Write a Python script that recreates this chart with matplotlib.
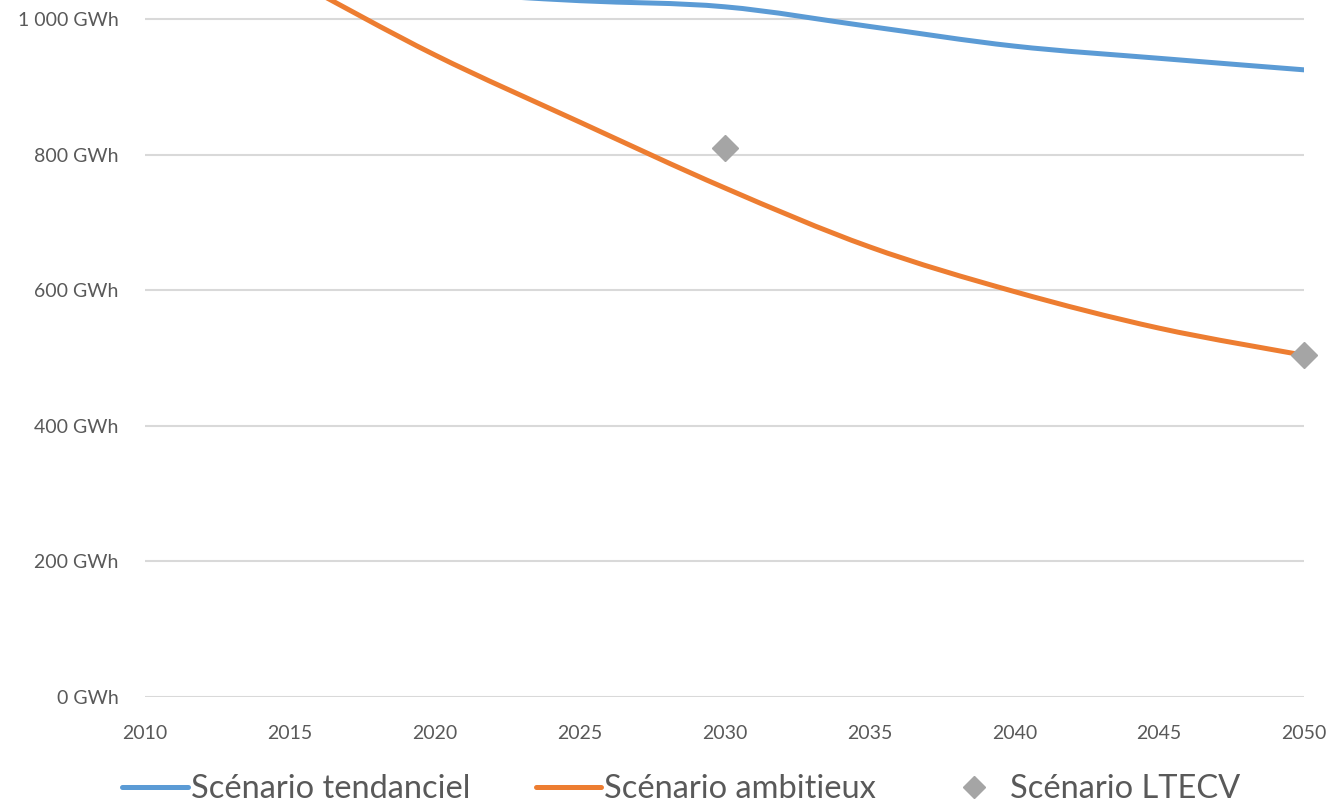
import matplotlib.pyplot as plt
from matplotlib.path import Path
from matplotlib.patches import PathPatch
from matplotlib.lines import Line2D
from matplotlib.ticker import FuncFormatter

# Data (GWh)
years = [2010, 2015, 2020, 2025, 2030, 2035, 2040, 2045, 2050]
tendanciel = [1056, 1049, 1039, 1027, 1018, 989, 960, 942, 925]
ambitieux = [1170, 1060, 947, 848, 751, 664, 598, 544, 504]
ltecv_years = [2030, 2050]
ltecv = [810, 505]

labels = ["Scénario tendanciel", "Scénario ambitieux", "Scénario LTECV"]
c_blue = "#5B9BD5"
c_orange = "#ED7D31"
c_gray = "#A5A5A5"
c_text = "#595959"

plt.rcParams["font.family"] = ["Lato", "DejaVu Sans"]


def smooth_path(xs, ys):
    # Excel-style smoothed line: cubic Bezier segments (Catmull-Rom control points)
    pts = list(zip(xs, ys))
    verts = [pts[0]]
    codes = [Path.MOVETO]
    n = len(pts)
    for i in range(n - 1):
        p0 = pts[i - 1] if i > 0 else pts[i]
        p1 = pts[i]
        p2 = pts[i + 1]
        p3 = pts[i + 2] if i + 2 < n else pts[i + 1]
        c1 = (p1[0] + (p2[0] - p0[0]) / 6, p1[1] + (p2[1] - p0[1]) / 6)
        c2 = (p2[0] - (p3[0] - p1[0]) / 6, p2[1] - (p3[1] - p1[1]) / 6)
        verts += [c1, c2, p2]
        codes += [Path.CURVE4] * 3
    return Path(verts, codes)


fig = plt.figure(figsize=(13.33, 8.06), dpi=100)
ax = fig.add_axes([0.1088, 0.1352, 0.8695, 0.8648])

ax.set_xlim(2010, 2050)
ax.set_ylim(0, 1028)

for series, col in [(tendanciel, c_blue), (ambitieux, c_orange)]:
    ax.add_patch(PathPatch(smooth_path(years, series), facecolor="none",
                           edgecolor=col, lw=3.6, capstyle="round", zorder=3))

ax.plot(ltecv_years, ltecv, linestyle="none", marker="D", ms=13,
        color=c_gray, zorder=4, clip_on=False)

ax.set_yticks(range(0, 1001, 200))
ax.set_xticks(range(2010, 2051, 5))
ax.yaxis.set_major_formatter(FuncFormatter(
    lambda v, p: f"{int(v):,} GWh".replace(",", " ")))
ax.grid(axis="y", color="#D9D9D9", lw=1.5)
ax.set_axisbelow(True)
for s in ax.spines.values():
    s.set_visible(False)
ax.tick_params(axis="both", length=0, labelsize=14, colors=c_text)
ax.tick_params(axis="y", pad=19)
ax.tick_params(axis="x", pad=20)

handles = [
    Line2D([], [], color=c_blue, lw=3.6, solid_capstyle="round"),
    Line2D([], [], color=c_orange, lw=3.6, solid_capstyle="round"),
    Line2D([], [], color=c_gray, marker="D", ms=11, linestyle="none"),
]
fig.legend(handles, labels, loc="center", bbox_to_anchor=(0.511, 0.021),
           ncol=3, frameon=False, fontsize=23.5, handlelength=2.0,
           handletextpad=0.1, columnspacing=2.0, labelcolor=c_text)

fig.savefig("out.png", dpi=100)
